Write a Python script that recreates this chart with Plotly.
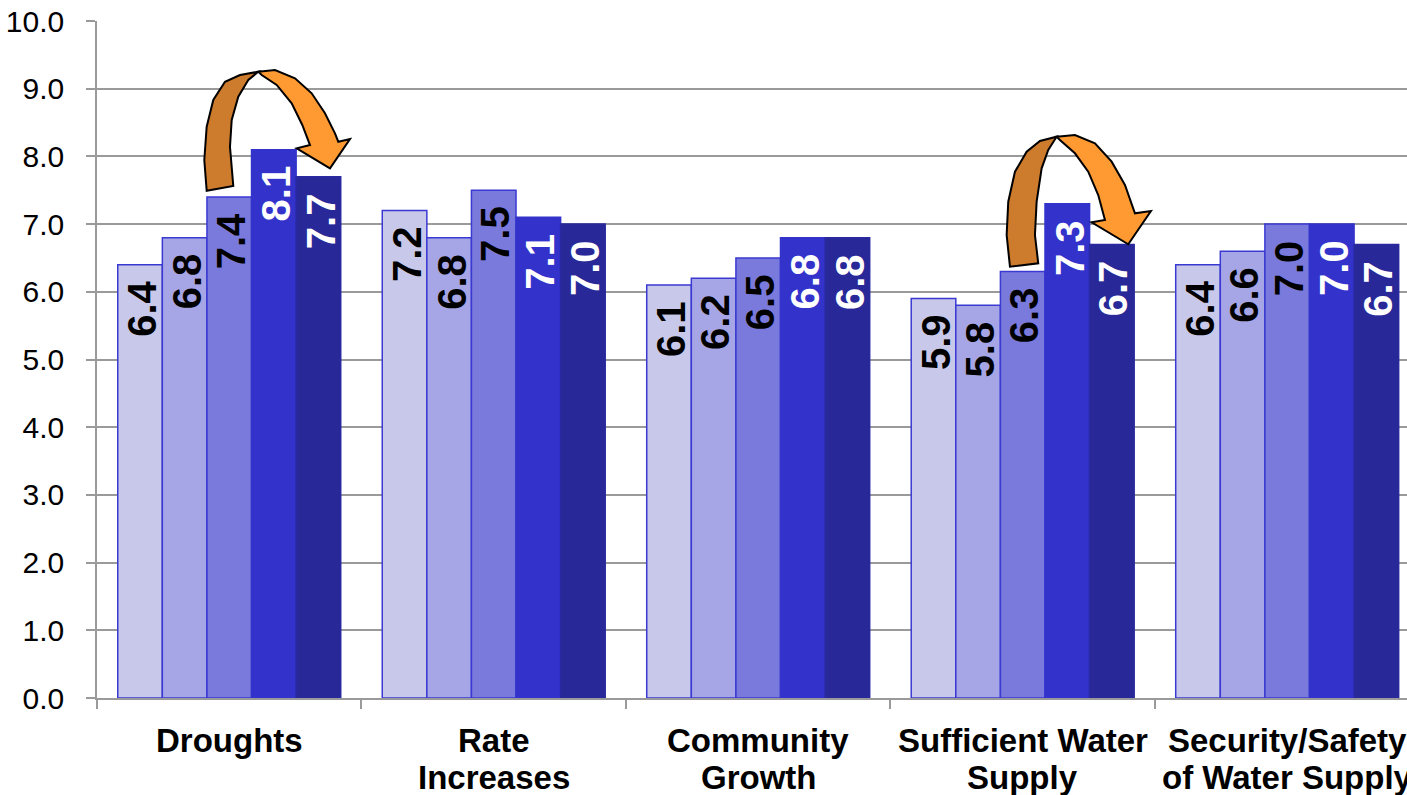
import plotly.graph_objects as go

# ---- data ----
categories = [
    "Droughts",
    "Rate<br>Increases",
    "Community<br>Growth",
    "Sufficient Water<br>Supply",
    "Security/Safety<br>of Water Supply",
]
series_names = ["Series 1", "Series 2", "Series 3", "Series 4", "Series 5"]
series_1 = [6.4, 7.2, 6.1, 5.9, 6.4]
series_2 = [6.8, 6.8, 6.2, 5.8, 6.6]
series_3 = [7.4, 7.5, 6.5, 6.3, 7.0]
series_4 = [8.1, 7.1, 6.8, 7.3, 7.0]
series_5 = [7.7, 7.0, 6.8, 6.7, 6.7]
y_tick_values = [0, 1, 2, 3, 4, 5, 6, 7, 8, 9, 10]

all_series = [series_1, series_2, series_3, series_4, series_5]

# ---- styling ----
fill_colors = ["#C8C9EA", "#A6A6E7", "#7A7ADC", "#3333CC", "#282898"]
edge_colors = ["#3A3AD2", "#3A3AD2", "#3A3AD2", "#3333CC", "#2A2AA0"]
label_colors = ["black", "black", "black", "white", "white"]
FONT = "Liberation Sans, Arial, sans-serif"
GRID = "#9A9A9A"
BARGAP = 0.157

x_pos = list(range(len(categories)))

fig = go.Figure()
for name, vals, fc, ec in zip(series_names, all_series, fill_colors, edge_colors):
    fig.add_trace(go.Bar(
        x=x_pos, y=vals, name=name,
        marker=dict(color=fc, line=dict(color=ec, width=1.5)),
        showlegend=False, hoverinfo="skip",
    ))

annotations = []

# value labels, rotated, near the top of each bar
n = len(all_series)
bar_w = (1 - BARGAP) / n
for j, (vals, col) in enumerate(zip(all_series, label_colors)):
    for i, v in enumerate(vals):
        annotations.append(dict(
            x=i - 0.5 + BARGAP / 2 + bar_w * (j + 0.5), y=v,
            xref="x", yref="y",
            text=f"<b>{v:.1f}</b>", showarrow=False, textangle=-90,
            xanchor="center", yanchor="top", yshift=-14, xshift=2,
            font=dict(family=FONT, size=40, color=col),
        ))

# category labels below the axis, one annotation per text line
for i, cat in enumerate(categories):
    for k, line in enumerate(cat.split("<br>")):
        annotations.append(dict(
            x=i, y=0, xref="x", yref="paper",
            text=f"<b>{line}</b>", showarrow=False,
            xanchor="center", yanchor="middle", yshift=-42 - 37 * k,
            font=dict(family=FONT, size=33, color="black"),
        ))

# curved arrow outlines (axis units): back (darker) ribbon and front ribbon with head
arrow_a_back = [(-0.0853, 7.493), (-0.0943, 7.947), (-0.0853, 8.439), (-0.0603, 8.833),
                (-0.0161, 9.103), (0.0406, 9.202), (0.1098, 9.251), (0.0720, 9.129),
                (0.0342, 8.882), (0.0093, 8.538), (0.0028, 8.143), (0.0153, 7.563)]
arrow_a_front = [(0.1098, 9.251), (0.1730, 9.276), (0.2486, 9.154), (0.3117, 8.932),
                 (0.3620, 8.637), (0.3998, 8.341), (0.4123, 8.217), (0.4565, 8.257),
                 (0.3809, 7.824), (0.2550, 8.120), (0.3053, 8.168), (0.2762, 8.464),
                 (0.2361, 8.784), (0.1794, 9.055), (0.1227, 9.202)]
arrow_b_back = [(2.9518, 6.371), (2.9393, 6.839), (2.9454, 7.331), (2.9707, 7.774),
                (3.0149, 8.069), (3.0652, 8.228), (3.1284, 8.291), (3.0966, 8.095),
                (3.0716, 7.824), (3.0527, 7.331), (3.0463, 6.839), (3.0588, 6.421)]
arrow_b_front = [(3.1284, 8.291), (3.1975, 8.316), (3.2732, 8.193), (3.3363, 7.922),
                 (3.3866, 7.578), (3.4244, 7.160), (3.4849, 7.194), (3.3991, 6.702),
                 (3.2607, 7.027), (3.3110, 7.061), (3.2856, 7.430), (3.2478, 7.774),
                 (3.1975, 8.046), (3.1408, 8.242)]


def poly_path(pts):
    return "M " + " L ".join(f"{x},{y}" for x, y in pts) + " Z"


shapes = []
for pts, col in [(arrow_a_back, "#CD7B2C"), (arrow_a_front, "#FF9A33"),
                 (arrow_b_back, "#CD7B2C"), (arrow_b_front, "#FF9A33")]:
    shapes.append(dict(type="path", path=poly_path(pts), xref="x", yref="y",
                       fillcolor=col, line=dict(color="black", width=2),
                       layer="above"))

fig.update_layout(
    width=1407, height=795,
    margin=dict(l=97, r=0, t=21, b=97, autoexpand=False),
    paper_bgcolor="white", plot_bgcolor="white",
    barmode="group", bargap=BARGAP, bargroupgap=0,
    font=dict(family=FONT, color="black"),
    annotations=annotations, shapes=shapes,
    xaxis=dict(
        range=[-0.5, 4.453], tickmode="array",
        tickvals=[i - 0.5 for i in range(len(categories) + 1)],
        showticklabels=False, ticks="outside", ticklen=9, tickwidth=1.5,
        tickcolor=GRID, showgrid=False, zeroline=False,
        showline=True, linecolor=GRID, linewidth=1.5, fixedrange=True,
    ),
    yaxis=dict(
        range=[0, 10], tickmode="array", tickvals=y_tick_values,
        ticktext=[f"{v:.1f}" for v in y_tick_values],
        ticks="outside", ticklen=9, tickwidth=1.5, tickcolor=GRID,
        ticklabelstandoff=16,
        tickfont=dict(family=FONT, size=30, color="black"),
        showgrid=True, gridcolor=GRID, gridwidth=1.5, zeroline=False,
        showline=True, linecolor=GRID, linewidth=1.5, automargin=False,
        fixedrange=True,
    ),
)

fig.write_html("out.html")
